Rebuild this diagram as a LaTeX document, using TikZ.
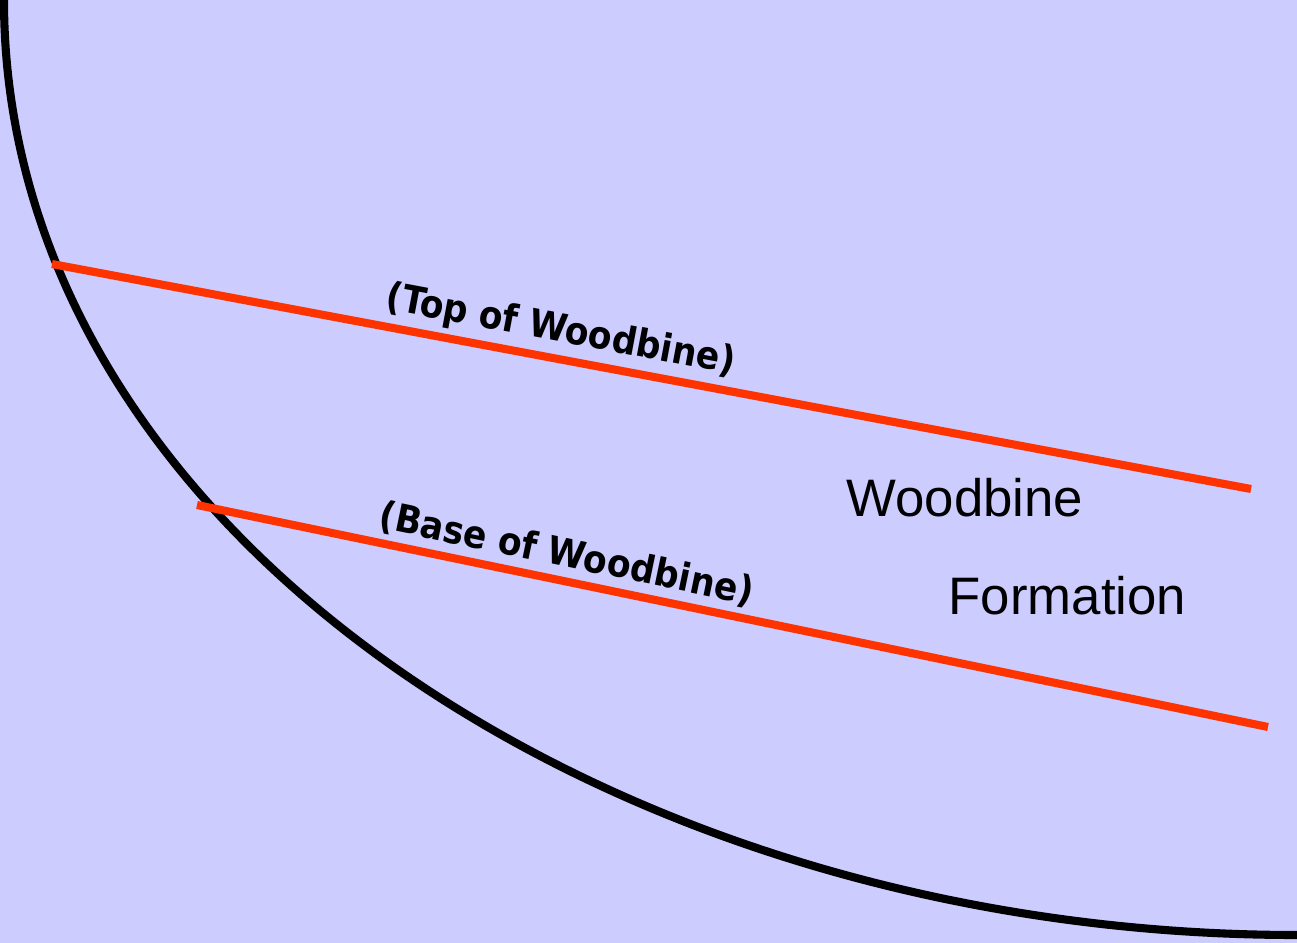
\documentclass[tikz,border=0pt]{standalone}
\usepackage{fontspec}
\setmainfont{Liberation Sans}
\newfontfamily\horizonfont{DejaVu Sans Condensed}
\usepackage{xcolor}
\usepackage{tikz}
\usetikzlibrary{calc}

\definecolor{sectionbg}{HTML}{CCCCFF}
\definecolor{horizonred}{HTML}{FF3300}

\begin{document}
\begin{tikzpicture}[
    x=0.01cm, y=-0.01cm,
    wellbore/.style={draw=black, line width=2.3pt},
    horizon/.style={draw=horizonred, line width=2.3pt},
    horizonlabel/.style={font=\horizonfont\bfseries\fontsize{10.9}{12}\selectfont,
                         sloped, above, inner sep=1.5pt},
    formation/.style={font=\fontsize{15}{18}\selectfont, anchor=base west, inner sep=0pt}
]

% Background / bounding box
\fill[sectionbg] (0,0) rectangle (1297,943);
\useasboundingbox (0,0) rectangle (1297,943);

% Curved well path
\coordinate (kickoff) at (4,0);
\coordinate (lateral) at (1297,935);
\draw[wellbore] (kickoff) .. controls (4,530) and (610,935) .. (lateral);

% Horizons
\coordinate (topwest) at (52,264);
\coordinate (topeast) at (1251,489);
\coordinate (basewest) at (197,505);
\coordinate (baseeast) at (1268,727);

\draw[horizon] (topwest) -- node[horizonlabel, pos=0.42] (toplbl) {(Top of Woodbine)} (topeast);
\draw[horizon] (basewest) -- node[horizonlabel, pos=0.34] (baselbl) {(Base of Woodbine)} (baseeast);

% Formation name
\node[formation] (fmname) at (846,517) {Woodbine};
\node[formation] (fmname2) at (948,614) {Formation};

\end{tikzpicture}
\end{document}
